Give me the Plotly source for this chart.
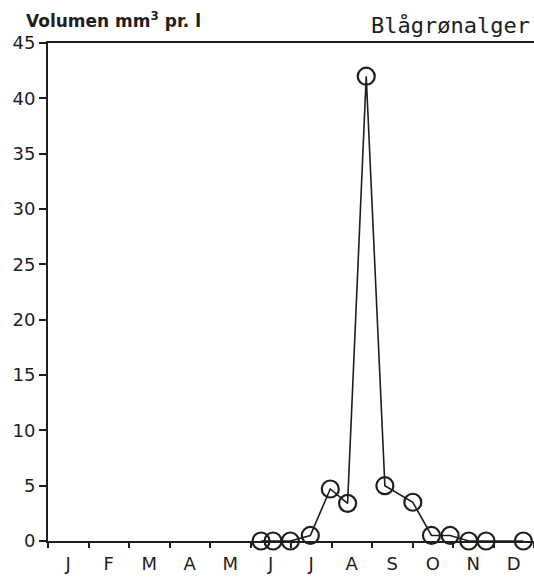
import plotly.graph_objects as go

# Sampling days (day of year) and blue-green algae volume (mm³ per litre)
day_of_year = [160, 169, 182, 197, 212, 225, 239, 253, 274, 288, 302, 316, 329, 357]
volume = [0, 0, 0, 0.5, 4.7, 3.4, 42, 5.0, 3.5, 0.5, 0.5, 0, 0, 0]

month_labels = ["J", "F", "M", "A", "M", "J", "J", "A", "S", "O", "N", "D"]
y_ticks = [0, 5, 10, 15, 20, 25, 30, 35, 40, 45]

year_len = 365
month_len = year_len / 12
month_mid = [(i + 0.5) * month_len for i in range(12)]

ink = "#1e1e1e"
font_family = "DejaVu Sans, Liberation Sans, sans-serif"
mono_family = "DejaVu Sans Mono, Liberation Mono, monospace"

fig = go.Figure()
fig.add_trace(go.Scatter(
    x=day_of_year,
    y=volume,
    mode="lines+markers",
    line=dict(color=ink, width=1.6),
    marker=dict(symbol="circle-open", size=17, color=ink,
                line=dict(width=2.2, color=ink)),
    cliponaxis=False,
    showlegend=False,
))

fig.update_layout(
    width=534,
    height=577,
    margin=dict(l=48, r=0, t=43, b=36),
    paper_bgcolor="white",
    plot_bgcolor="white",
    font=dict(family=font_family, color=ink),
    xaxis=dict(
        range=[0, year_len],
        tickvals=month_mid,
        ticktext=month_labels,
        ticks="",
        ticklabelstandoff=5,
        automargin=False,
        showgrid=False,
        zeroline=False,
        showline=True,
        mirror=True,
        linecolor=ink,
        linewidth=2,
        tickfont=dict(size=18),
        minor=dict(tick0=0, dtick=month_len, ticks="outside",
                   ticklen=5, tickwidth=1.5, tickcolor=ink, showgrid=False),
        fixedrange=True,
    ),
    yaxis=dict(
        range=[0, 45],
        tickvals=y_ticks,
        ticks="outside",
        ticklen=7,
        tickwidth=1.5,
        tickcolor=ink,
        automargin=False,
        showgrid=False,
        zeroline=False,
        showline=True,
        linecolor=ink,
        linewidth=2,
        tickfont=dict(size=18),
        fixedrange=True,
    ),
    annotations=[
        dict(text="<b>Volumen mm<sup>3</sup> pr. l</b>", x=0, y=1,
             xref="paper", yref="paper", xanchor="left", yanchor="bottom",
             showarrow=False, xshift=-24, yshift=10,
             font=dict(size=17, color=ink)),
        dict(text="Blågrønalger", x=1, y=1, xref="paper", yref="paper",
             xanchor="right", yanchor="bottom", showarrow=False,
             xshift=-2, yshift=3, font=dict(size=22, color=ink,
                                            family=mono_family)),
    ],
)

fig.write_html("out.html")
